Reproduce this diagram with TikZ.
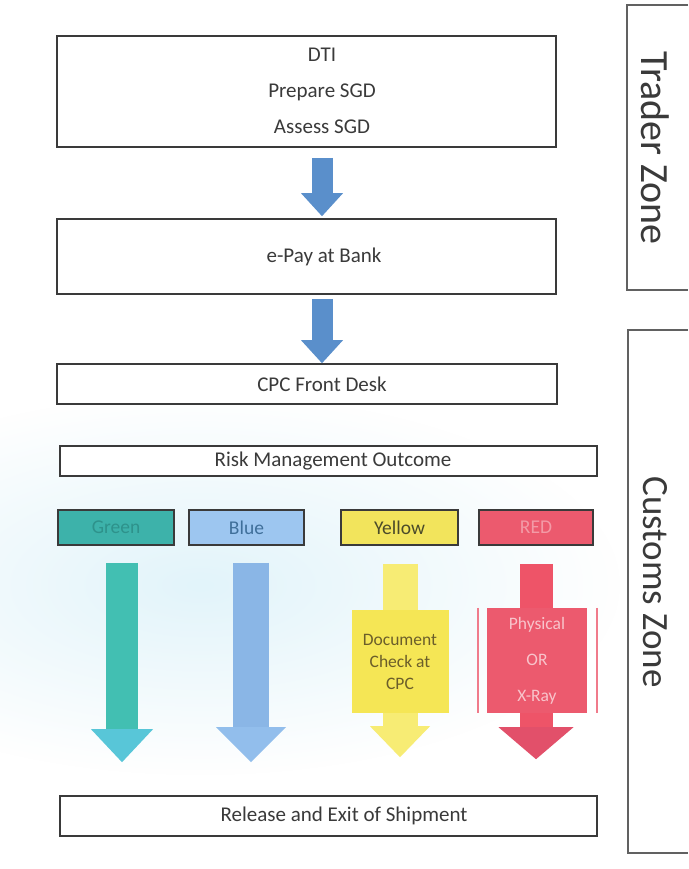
\documentclass[tikz,border=0pt]{standalone}
\usepackage{fontspec}
\setmainfont{Carlito}
\usetikzlibrary{arrows.meta,fadings}
\tikzfading[name=softglow, inner color=transparent!0, outer color=transparent!100]
\definecolor{ink}{HTML}{3A3A3A}
\definecolor{haze}{HTML}{E2F4FA}
\definecolor{arrowblue}{HTML}{5A8FCB}
\definecolor{gfill}{HTML}{3DB2AA}
\definecolor{gtext}{HTML}{2E928B}
\definecolor{gshaft}{HTML}{42BFB2}
\definecolor{ghead}{HTML}{58C6D8}
\definecolor{bfill}{HTML}{9DC6F0}
\definecolor{btext}{HTML}{3F6F9A}
\definecolor{bshaft}{HTML}{8AB6E6}
\definecolor{bhead}{HTML}{92BEEC}
\definecolor{yfill}{HTML}{F2E45C}
\definecolor{ytext}{HTML}{4A4A2A}
\definecolor{yshaftc}{HTML}{F7EC74}
\definecolor{yboxc}{HTML}{F5E655}
\definecolor{ybtext}{HTML}{6B5E2A}
\definecolor{rfill}{HTML}{EC5A6E}
\definecolor{rtext}{HTML}{F39AA6}
\definecolor{rshaftc}{HTML}{EE5468}
\definecolor{rheadc}{HTML}{E2506A}
\definecolor{rbtext}{HTML}{F8C4CB}
\begin{document}
\begin{tikzpicture}[x=1pt,y=-1pt,
  box/.style={draw=ink, line width=1.6pt, fill=white, inner sep=0pt},
  txt/.style={text=ink, font=\fontsize{21}{36}\selectfont, align=center, inner sep=0pt},
  lab/.style={draw=ink, line width=1.6pt, inner sep=0pt, minimum height=35pt, font=\fontsize{19.5}{22}\selectfont},
  zone/.style={text=ink, rotate=-90, inner sep=0pt},
  zoneline/.style={draw=ink!80, line width=1.4pt},
  topshaft/.style={draw=arrowblue, line width=21pt, -{Triangle[width=42pt,length=23pt,line width=0pt]}},
  callbox/.style={inner sep=0pt, align=center, font=\fontsize{17.5}{22}\selectfont}
]
\useasboundingbox (0,0) rectangle (688,869);
\fill[white] (0,0) rectangle (688,869);
\fill[haze, path fading=softglow] (200,585) ellipse [x radius=420, y radius=190];

% column coordinates
\coordinate (ax) at (322,0);
\coordinate (gx) at (122,0);
\coordinate (bx) at (251,0);
\coordinate (yx) at (400,0);
\coordinate (rx) at (536,0);

% main boxes
\node[box, minimum width=499pt, minimum height=111pt] (top) at (306.5,91.5) {};
\node[txt] (toptxt) at (322,91) {DTI\\Prepare SGD\\Assess SGD};
\node[box, minimum width=499pt, minimum height=75pt] (epay) at (306.5,256.5) {};
\node[txt] (epaytxt) at (324,257) {e-Pay at Bank};
\node[box, minimum width=500pt, minimum height=40pt] (cpc) at (307,384) {};
\node[txt] (cpctxt) at (322,384) {CPC Front Desk};
\node[box, minimum width=537pt, minimum height=30pt] (risk) at (328.5,461) {};
\node[txt] (risktxt) at (333,461) {Risk Management Outcome};
\node[box, minimum width=537pt, minimum height=40pt] (rel) at (328.5,816) {};
\node[txt] (reltxt) at (344,816) {Release and Exit of Shipment};

% top arrows
\draw[topshaft, shorten <=10pt, shorten >=2pt] (top.south -| ax) -- (epay.north -| ax);
\draw[topshaft, shorten <=4pt] (epay.south -| ax) -- (cpc.north -| ax);

% outcome labels
\node[lab, fill=gfill, text=gtext, minimum width=116pt] (glab) at (116,527.5) {Green};
\node[lab, fill=bfill, text=btext, minimum width=115pt] (blab) at (246.5,527.5) {Blue};
\node[lab, fill=yfill, text=ytext, minimum width=117pt] (ylab) at (399.5,527.5) {Yellow};
\node[lab, fill=rfill, text=rtext, minimum width=114pt] (rlab) at (536,527.5) {RED};

% green and blue arrows
\draw[draw=gshaft, line width=32pt, -{Triangle[width=62pt,length=33pt,line width=0pt,color=ghead]}, shorten <=17pt, shorten >=33pt] (glab.south -| gx) -- (rel.north -| gx);
\draw[draw=bshaft, line width=36pt, -{Triangle[width=70pt,length=35pt,line width=0pt,color=bhead]}, shorten <=17pt, shorten >=33pt] (blab.south -| bx) -- (rel.north -| bx);

% yellow path
\node[callbox, fill=yboxc, text=ybtext, minimum width=97pt, minimum height=103pt] (ybox) at (400,661.5) {Document\\Check at\\CPC};
\draw[draw=yshaftc, line width=35pt, shorten <=18pt] (ylab.south -| yx) -- (ybox.north -| yx);
\draw[draw=yshaftc, line width=35pt, -{Triangle[width=60pt,length=31pt,line width=0pt]}, shorten >=38pt] (ybox.south -| yx) -- (rel.north -| yx);

% red path
\node[callbox, fill=rfill, text=rbtext, minimum width=100pt, minimum height=105pt, font=\fontsize{17.5}{36}\selectfont] (rbox) at (537,660.5) {Physical\\OR\\X-Ray};
\draw[draw=rshaftc, line width=33pt, shorten <=18pt] (rlab.south -| rx) -- (rbox.north -| rx);
\draw[draw=rshaftc, line width=33pt, -{Triangle[width=75pt,length=32pt,line width=0pt,color=rheadc]}, shorten >=36pt] (rbox.south -| rx) -- (rel.north -| rx);
\draw[draw=rfill!80, line width=1.5pt] ([xshift=-9pt]rbox.north west) -- ([xshift=-9pt]rbox.south west);
\draw[draw=rfill!80, line width=1.5pt] ([xshift=10pt]rbox.north east) -- ([xshift=10pt]rbox.south east);

% zones
\coordinate (tz1) at (688,5);
\coordinate (tz2) at (627,5);
\coordinate (tz3) at (627,290);
\coordinate (tz4) at (688,290);
\draw[zoneline] (tz1) -- (tz2) -- (tz3) -- (tz4);
\node[zone, font=\fontsize{40}{44}\selectfont] (tzone) at (655,148) {Trader Zone};
\coordinate (cz1) at (688,330);
\coordinate (cz2) at (628,330);
\coordinate (cz3) at (628,853);
\coordinate (cz4) at (688,853);
\draw[zoneline] (cz1) -- (cz2) -- (cz3) -- (cz4);
\node[zone, font=\fontsize{37}{40}\selectfont] (czone) at (655,582) {Customs Zone};
\end{tikzpicture}
\end{document}
